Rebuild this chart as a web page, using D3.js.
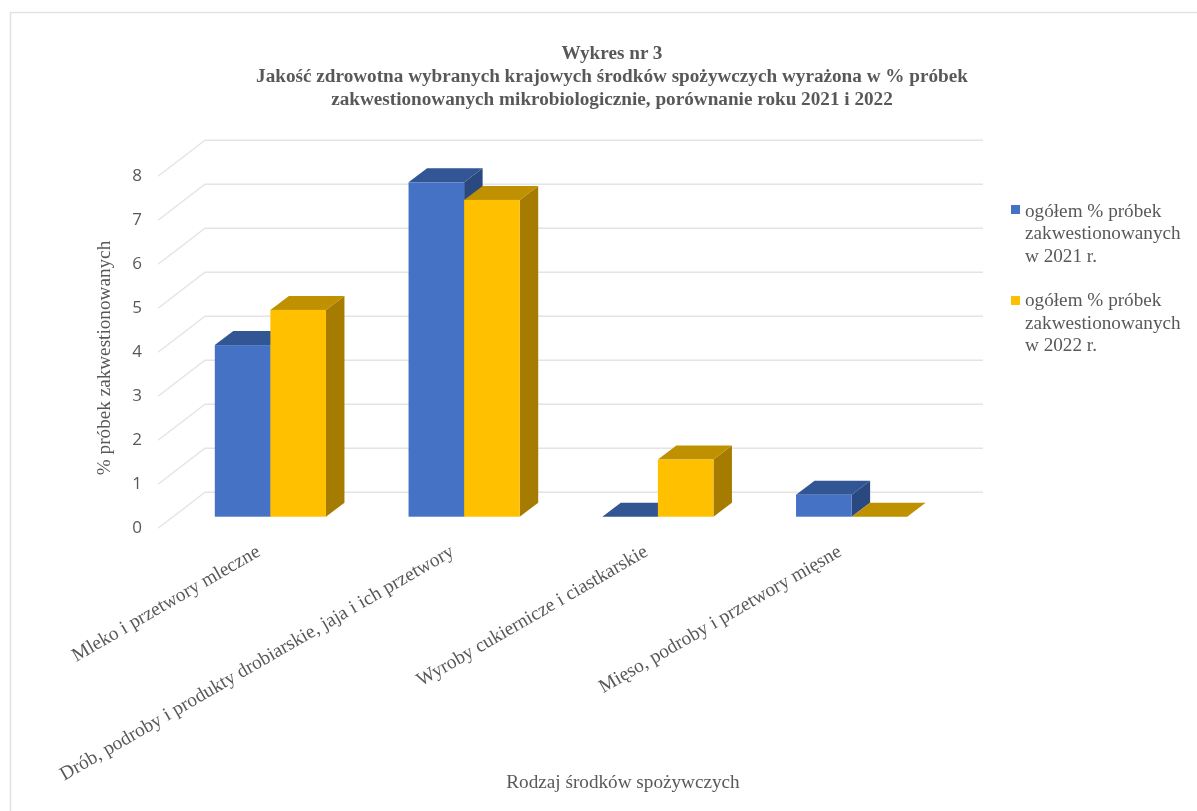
<!DOCTYPE html>
<html lang="pl">
<head>
<meta charset="utf-8">
<title>Wykres nr 3</title>
<script src="https://d3js.org/d3.v7.min.js"></script>
<style>
html,body{margin:0;padding:0;background:#fff;overflow:hidden}
svg{display:block}
text{font-family:"Liberation Serif",serif;fill:#595959}
.num text{font-family:"Open Sans","Liberation Sans",sans-serif;font-size:17px;fill:#595959}
</style>
</head>
<body>
<svg id="c" width="1197" height="811"></svg>
<script>
const categories = ["Mleko i przetwory mleczne","Drób, podroby i produkty drobiarskie, jaja i ich przetwory","Wyroby cukiernicze i ciastkarskie","Mięso, podroby i przetwory mięsne"];
const seriesNames = ["ogółem % próbek zakwestionowanych w 2021 r.","ogółem % próbek zakwestionowanych w 2022 r."];
const values2021 = [3.9,7.6,0,0.5];
const values2022 = [4.7,7.2,1.3,0];
const yTicks = [0,1,2,3,4,5,6,7,8];
const titleLines = ["Wykres nr 3","Jakość zdrowotna wybranych krajowych środków spożywczych wyrażona w % próbek","zakwestionowanych mikrobiologicznie, porównanie roku 2021 i 2022"];
const legendLines = [["ogółem % próbek","zakwestionowanych","w 2021 r."],["ogółem % próbek","zakwestionowanych","w 2022 r."]];
const colors = [{front:"#4472C4",top:"#335593",side:"#2A4A80"},{front:"#FFC000",top:"#BF9000",side:"#A67C00"}];

const svg = d3.select("#c");
const defs = svg.append("defs");
defs.append("filter").attr("id","soft").attr("x","-5%").attr("y","-5%").attr("width","110%").attr("height","110%")
  .append("feGaussianBlur").attr("stdDeviation",0.5);
const root = svg.append("g").attr("filter","url(#soft)");

// frame
root.append("path").attr("d","M10.5,811V12.5H1197").attr("fill","none").attr("stroke","#e2e2e2").attr("stroke-width",1.5);

const y = d3.scaleLinear().domain([0,8]).range([516.7,164.7]);
const x0 = d3.scaleBand().domain(categories).range([173.5,948.5]).paddingInner(0.4263).paddingOuter(0.2132);
const x1 = d3.scaleBand().domain([0,1]).range([0,x0.bandwidth()]);
const depth = {dx:18.5,dy:-14};
const wall = {dy:-24.4,sideDx:47,sideDy:36,right:983};

// gridlines on the back wall and side wall
const grid = root.append("g").attr("fill","none").attr("stroke","#e4e4e4").attr("stroke-width",1.4);
yTicks.forEach(t=>{
  const wy = y(t)+wall.dy, wx = 205;
  grid.append("path").attr("d",`M${wx-wall.sideDx},${wy+wall.sideDy}L${wx},${wy}H${wall.right}`);
});

// bars
categories.forEach((c,i)=>{
  [values2021,values2022].forEach((vals,s)=>{
    const v = vals[i], bx = x0(c)+x1(s), w = x1.bandwidth(), top = y(v), bot = y(0), col = colors[s];
    const g = root.append("g");
    if(v>0) g.append("path").attr("fill",col.side)
      .attr("d",`M${bx+w},${top}l${depth.dx},${depth.dy}V${bot+depth.dy}l${-depth.dx},${-depth.dy}Z`);
    g.append("path").attr("fill",col.top)
      .attr("d",`M${bx},${top}l${depth.dx},${depth.dy}h${w}l${-depth.dx},${-depth.dy}Z`);
    if(v>0) g.append("rect").attr("x",bx).attr("y",top).attr("width",w).attr("height",bot-top).attr("fill",col.front);
  });
});

// y axis numbers
const ax = root.append("g").attr("class","num").attr("transform",`translate(144,${wall.sideDy+wall.dy-1})`)
  .call(d3.axisLeft(y).tickValues(yTicks).tickSize(0).tickPadding(0));
ax.select(".domain").remove();
ax.selectAll("text").attr("font-family",null).attr("text-anchor","middle").attr("x",-7);

// category labels
categories.forEach(c=>{
  const cx = x0(c)+x0.bandwidth()/2;
  root.append("text").attr("text-anchor","end").attr("font-size",19.4)
    .attr("transform",`translate(${cx-9},${555}) rotate(-30)`).text(c);
});

// titles
const title = root.append("g").attr("text-anchor","middle").attr("font-size",19.2);
titleLines.forEach((l,i)=>title.append("text").attr("x",612).attr("y",59+i*23).style("font-weight","bold").text(l));
root.append("text").attr("transform","translate(110,358) rotate(-90)").attr("text-anchor","middle").attr("font-size",19.2).text("% próbek zakwestionowanych");
root.append("text").attr("x",623).attr("y",788).attr("text-anchor","middle").attr("font-size",19.2).text("Rodzaj środków spożywczych");

// legend
const legendTop = [205,296];
const lineOffsets = [[12,34,57],[10,33,55]];
seriesNames.forEach((n,s)=>{
  const g = root.append("g").attr("aria-label",n);
  g.append("rect").attr("x",1011).attr("y",legendTop[s]).attr("width",9).attr("height",9).attr("fill",colors[s].front);
  legendLines[s].forEach((l,i)=>g.append("text").attr("x",1025).attr("y",legendTop[s]+lineOffsets[s][i]).attr("font-size",19.2).text(l));
});
</script>
</body>
</html>
